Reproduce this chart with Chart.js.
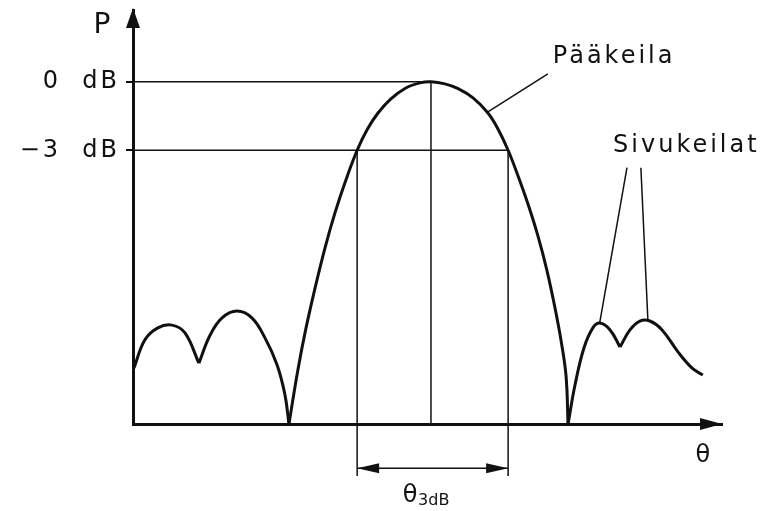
<!DOCTYPE html>
<html>
<head>
<meta charset="utf-8">
<script src="https://cdn.jsdelivr.net/npm/chart.js@4.4.0/dist/chart.umd.min.js"></script>
<style>
html, body { margin: 0; padding: 0; background: #fff; }
#wrap { width: 772px; height: 511px; }
</style>
</head>
<body>
<div id="wrap"><canvas id="keila"></canvas></div>
<script>
// theta in degrees, P relative to the main lobe peak (0 dB = 1)
const leftSide1X = [-89.7, -86.4, -82.5, -78.2, -74.3, -70.1];
const leftSide1Y = [0.164, 0.246, 0.281, 0.289, 0.266, 0.178];
const leftSide2X = [-70.1, -66.7, -63.1, -58.6, -54.1, -50.1, -46.5, -44.1, -42.9];
const leftSide2Y = [0.178, 0.260, 0.310, 0.330, 0.310, 0.251, 0.173, 0.085, 0];
const mainLobeX = [-42.9, -40.2, -37.8, -35.0, -32.0, -29.0, -25.7, -22.3, -19.3, -16.0, -12.1, -7.6, -3.3, 0,
                   4.2, 8.2, 12.7, 17.2, 20.2, 23.3, 26.3, 29.3, 32.3, 35.0, 37.4, 39.3, 40.8, 41.4];
const mainLobeY = [0, 0.158, 0.278, 0.398, 0.515, 0.617, 0.713, 0.8, 0.860, 0.909, 0.950, 0.982, 0.997, 1,
                   0.994, 0.980, 0.953, 0.909, 0.863, 0.8, 0.725, 0.643, 0.550, 0.450, 0.342, 0.243, 0.140, 0];
const rightSide1X = [41.4, 43.5, 46.2, 48.9, 51.0, 54.1, 57.1];
const rightSide1Y = [0, 0.114, 0.222, 0.281, 0.295, 0.275, 0.225];
const rightSide2X = [57.1, 60.1, 63.1, 66.1, 69.8, 74.6, 78.8, 82.1];
const rightSide2Y = [0.225, 0.275, 0.301, 0.301, 0.275, 0.211, 0.164, 0.143];

const peakTheta = 0;
const beamLeft = -22.3;
const beamRight = 23.3;
const zeroDb = 1;
const minus3Db = 0.8;

const yTickValues = [zeroDb, minus3Db];
const yTickLabels = ["0  dB", "\u22123  dB"];

// leader lines of the labels
const mainLeaderX = [17.2, 35.3];
const mainLeaderY = [0.912, 1.023];
const side1LeaderX = [51.0, 59.2];
const side1LeaderY = [0.298, 0.749];
const side2LeaderX = [65.5, 63.4];
const side2LeaderY = [0.306, 0.749];

const dimLevel = -0.129;
const dimEnd = -0.152;

const ink = "#111";

function pts(xs, ys) {
    return xs.map((x, i) => ({x: x, y: ys[i]}));
}

function curve(xs, ys) {
    return {data: pts(xs, ys), showLine: true, borderColor: ink, borderWidth: 3, pointRadius: 0, tension: 0.4};
}

function thin(xs, ys) {
    return {data: pts(xs, ys), showLine: true, borderColor: ink, borderWidth: 1.5, pointRadius: 0, tension: 0, clip: false};
}

// texts: [text, x, y, size, align, spacing]
const texts = [
    ["P", -99.4, 1.143, 28, "center", 0],
    ["\u03b8", 82.1, -0.111, 24, "center", 0],
    ["P\u00e4\u00e4keila", 36.8, 1.056, 24, "left", 3],
    ["Sivukeilat", 55.0, 0.795, 24, "left", 3],
    ["\u03b8", -8.5, -0.228, 24, "left", 0],
    ["3dB", -3.9, -0.237, 16, "left", 0]
];

function arrow(ctx, tx, ty, dx, dy, len, half) {
    // tip at (tx,ty), pointing along (dx,dy)
    const bx = tx - dx * len, by = ty - dy * len;
    ctx.beginPath();
    ctx.moveTo(tx, ty);
    ctx.lineTo(bx - dy * half, by + dx * half);
    ctx.lineTo(bx + dy * half, by - dx * half);
    ctx.closePath();
    ctx.fill();
}

const drawExtras = {
    id: "drawExtras",
    beforeDraw(chart) {
        chart.ctx.letterSpacing = "3px";
    },
    afterDraw(chart) {
        const ctx = chart.ctx;
        const xs = chart.scales.x, ys = chart.scales.y;
        const area = chart.chartArea;
        ctx.save();
        ctx.fillStyle = ink;
        // axis arrows
        arrow(ctx, area.left, area.top - 2, 0, -1, 20, 7);
        arrow(ctx, area.right, ys.getPixelForValue(0), 1, 0, 22, 6);
        // theta 3dB arrows
        const dy = ys.getPixelForValue(dimLevel);
        arrow(ctx, xs.getPixelForValue(beamLeft), dy, -1, 0, 22, 5);
        arrow(ctx, xs.getPixelForValue(beamRight), dy, 1, 0, 22, 5);
        ctx.textBaseline = "alphabetic";
        texts.forEach(t => {
            ctx.font = t[3] + 'px "DejaVu Sans"';
            ctx.textAlign = t[4];
            ctx.letterSpacing = t[5] + "px";
            ctx.fillText(t[0], xs.getPixelForValue(t[1]), ys.getPixelForValue(t[2]));
        });
        ctx.restore();
    }
};

new Chart(document.getElementById("keila"), {
    type: "scatter",
    data: {
        datasets: [
            thin([-90, peakTheta], [zeroDb, zeroDb]),
            thin([-90, beamRight], [minus3Db, minus3Db]),
            thin([peakTheta, peakTheta], [0, zeroDb]),
            thin([beamLeft, beamLeft], [minus3Db, dimEnd]),
            thin([beamRight, beamRight], [minus3Db, dimEnd]),
            thin([beamLeft, beamRight], [dimLevel, dimLevel]),
            thin(mainLeaderX, mainLeaderY),
            thin(side1LeaderX, side1LeaderY),
            thin(side2LeaderX, side2LeaderY),
            curve(leftSide1X, leftSide1Y),
            curve(leftSide2X, leftSide2Y),
            curve(mainLobeX, mainLobeY),
            curve(rightSide1X, rightSide1Y),
            curve(rightSide2X, rightSide2Y)
        ]
    },
    options: {
        responsive: true,
        maintainAspectRatio: false,
        animation: false,
        layout: {padding: {left: 0, top: 10, right: 50, bottom: 0}},
        plugins: {legend: {display: false}, tooltip: {enabled: false}},
        scales: {
            x: {
                type: "linear", min: -90, max: 87.9,
                ticks: {display: false},
                grid: {display: false},
                border: {color: ink, width: 3},
                afterFit: s => { s.height = 87; s.paddingLeft = 0; s.paddingRight = 0; }
            },
            y: {
                min: 0, max: 1.21,
                afterBuildTicks: s => { s.ticks = yTickValues.map(v => ({value: v})); },
                ticks: {
                    callback: v => yTickLabels[yTickValues.indexOf(v)],
                    color: ink,
                    font: {family: "DejaVu Sans", size: 24},
                    padding: 6
                },
                grid: {drawOnChartArea: false, tickLength: 7, color: ink, lineWidth: 2},
                border: {color: ink, width: 3},
                afterFit: s => { s.width = 133; s.paddingTop = 0; s.paddingBottom = 0; }
            }
        }
    },
    plugins: [drawExtras]
});
</script>
</body>
</html>
